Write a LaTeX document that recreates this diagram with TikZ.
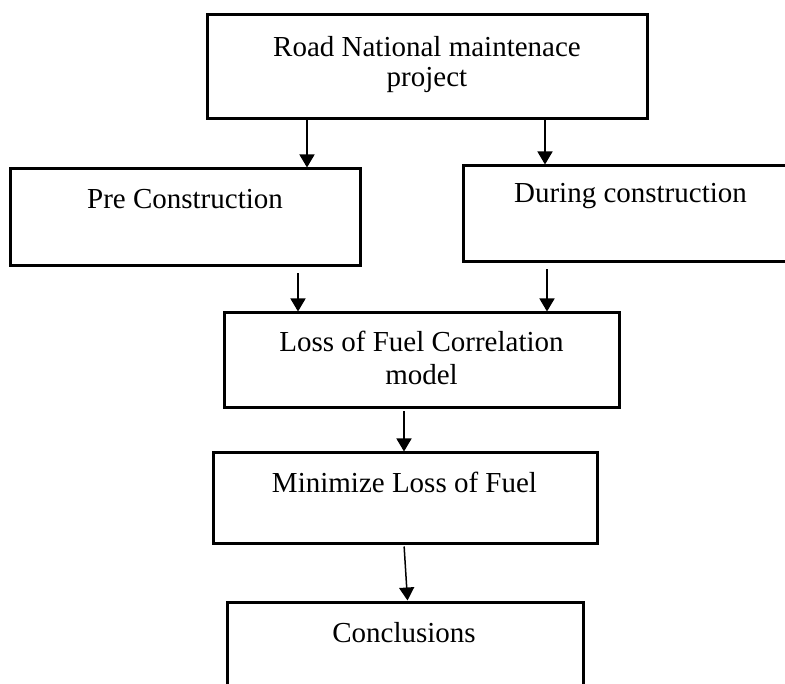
\documentclass[tikz,border=0pt]{standalone}
\usepackage{fontspec}
\setmainfont{Liberation Serif}
\usetikzlibrary{arrows.meta}
\begin{document}
\begin{tikzpicture}[x=1pt,y=-1pt,
  box/.style={draw=black,line width=3pt,rectangle,inner sep=0pt,fill=none},
  lbl/.style={anchor=base,inner sep=0pt,font=\fontsize{29pt}{33pt}\selectfont},
  arr/.style={draw=black,line width=1.5pt,-{Triangle[width=15pt,length=13pt]}}]
\useasboundingbox (0,0) rectangle (785,684);
% boxes
\node[box,minimum width=440pt,minimum height=104pt] (top) at (427,67) {};
\node[box,minimum width=350pt,minimum height=97pt] (pre) at (185,217.5) {};
\node[box,minimum width=335pt,minimum height=96pt] (dur) at (630.5,214) {};
\node[box,minimum width=395pt,minimum height=95pt] (loss) at (421.5,360.5) {};
\node[box,minimum width=384pt,minimum height=90pt] (min) at (405,498) {};
\node[box,minimum width=356pt,minimum height=118pt] (conc) at (405,661) {};
% texts
\node[lbl] (t1a) at (427,57) {Road National maintenace};
\node[lbl] (t1b) at (427,87) {project};
\node[lbl] (t2) at (185,209) {Pre Construction};
\node[lbl] (t3) at (630.5,203) {During construction};
\node[lbl] (t4a) at (421.5,352) {Loss of Fuel Correlation};
\node[lbl] (t4b) at (421.5,385) {model};
\node[lbl] (t5) at (404.5,493) {Minimize Loss of Fuel};
\node[lbl] (t6) at (404,642) {Conclusions};
% arrow guide coordinates
\coordinate (c1) at (307,0);
\coordinate (c2) at (545,0);
\coordinate (c3) at (298,0);
\coordinate (c4) at (547,0);
\coordinate (c5) at (404,0);
\coordinate (c6s) at (404,0);
\coordinate (c6e) at (407.5,0);
% connectors
\draw[arr] (c1 |- top.south) -- (c1 |- pre.north);
\draw[arr] (c2 |- top.south) -- (c2 |- dur.north);
\draw[arr,shorten <=6pt] (c3 |- pre.south) -- (c3 |- loss.north);
\draw[arr,shorten <=6pt] (c4 |- dur.south) -- (c4 |- loss.north);
\draw[arr,shorten <=2pt] (c5 |- loss.south) -- (c5 |- min.north);
\draw[arr,shorten <=2pt] (c6s |- min.south) -- (c6e |- conc.north);
\end{tikzpicture}
\end{document}
